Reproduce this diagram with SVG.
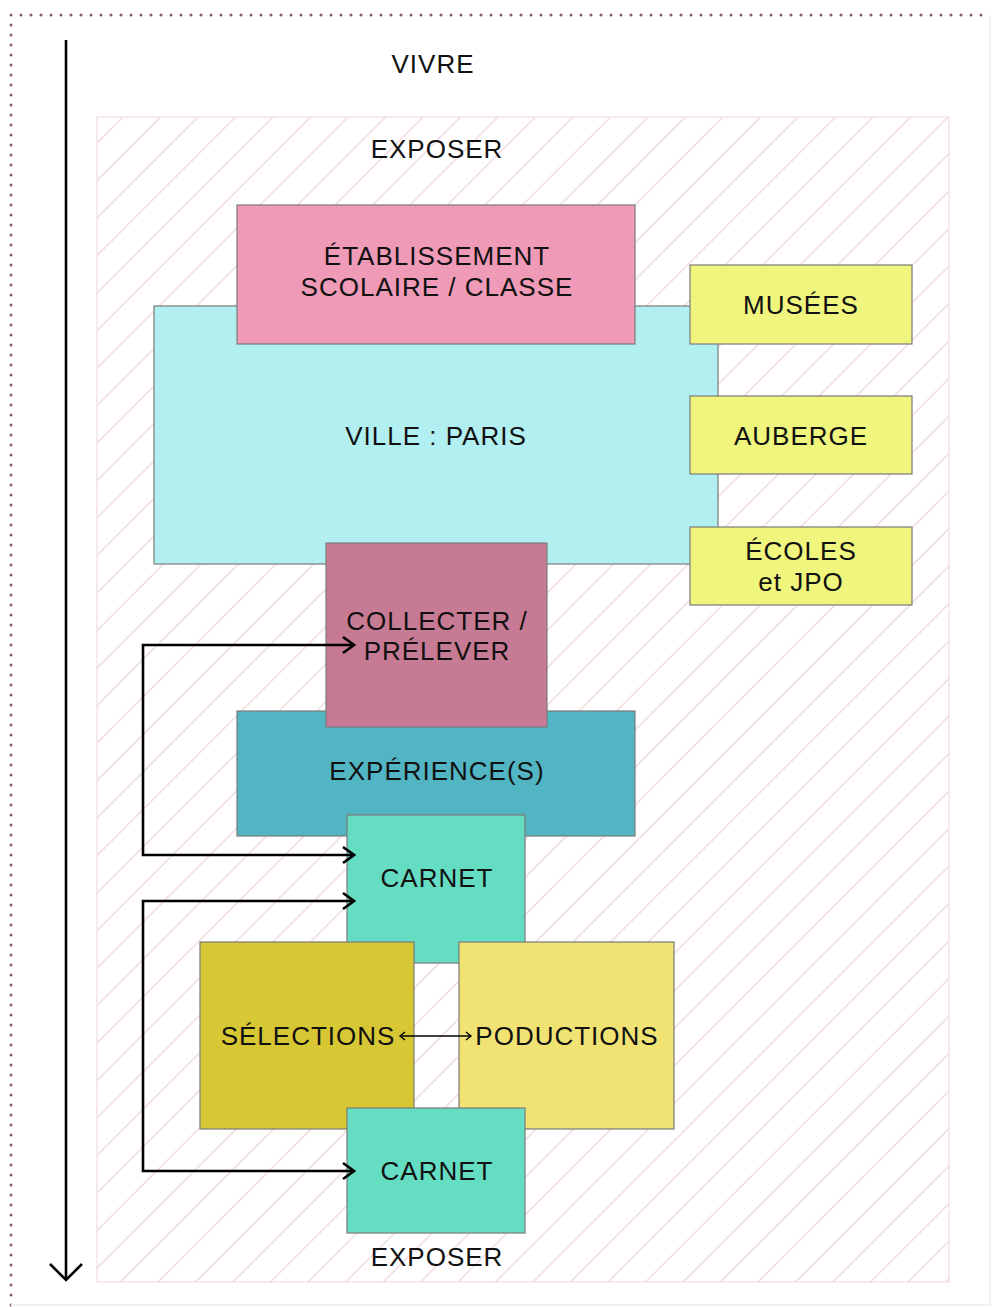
<svg xmlns="http://www.w3.org/2000/svg" width="992" height="1307" viewBox="0 0 992 1307">
<style>
.box{stroke:#7a7a7a;stroke-width:1.2}
.t{font-family:"Liberation Sans",Arial,sans-serif;font-size:26px;letter-spacing:1px;fill:#111;text-anchor:middle}
.con{fill:none;stroke:#000;stroke-width:2.6}
.dots{fill:none;stroke:#8c5b6b;stroke-width:3;stroke-dasharray:0 10;stroke-linecap:round}
</style>
<defs>
<pattern id="hatch" patternUnits="userSpaceOnUse" width="37.5" height="37.5">
<path d="M-1,16 L16,-1 M14,38.5 L38.5,14" stroke="#efd5db" stroke-width="1.3" fill="none"/>
</pattern>
<marker id="chev" markerUnits="userSpaceOnUse" viewBox="-14 -10 16 20" markerWidth="16" markerHeight="20" refX="0" refY="0" orient="auto-start-reverse">
<path d="M-11,-8 L0,0 L-11,8" fill="none" stroke="#000" stroke-width="2.6"/>
</marker>
<marker id="bigchev" markerUnits="userSpaceOnUse" viewBox="-20 -20 24 40" markerWidth="24" markerHeight="40" refX="0" refY="0" orient="auto">
<path d="M-16,-16 L0,0 L-16,16" fill="none" stroke="#000" stroke-width="2.6"/>
</marker>
<marker id="small" markerUnits="userSpaceOnUse" viewBox="-8 -6 10 12" markerWidth="10" markerHeight="12" refX="0" refY="0" orient="auto-start-reverse">
<path d="M-5,-4 L0,0 L-5,4" fill="none" stroke="#000" stroke-width="1.4"/>
</marker>
</defs>
<rect width="992" height="1307" fill="#fff"/>
<g id="border">
<path class="dots" d="M11,1305 L11,15 L990,15"/>
<path d="M990,15 L990,1305 L11,1305" fill="none" stroke="#f1f1f1" stroke-width="2"/>
</g>
<g id="frame">
<rect x="97" y="117" width="852" height="1165" fill="url(#hatch)" stroke="#f0dde2" stroke-width="1.2"/>
</g>
<g id="labels">
<text class="t" x="433" y="73">VIVRE</text>
<text class="t" x="437" y="158">EXPOSER</text>
<text class="t" x="437" y="1266">EXPOSER</text>
</g>
<g id="ville"><rect class="box" x="154" y="306" width="564" height="258" fill="#b2eff0"/><text class="t" x="436" y="445">VILLE : PARIS</text></g>
<g id="etablissement"><rect class="box" x="237" y="205" width="398" height="139" fill="#ef9ab6"/><text class="t" x="437" y="265">ÉTABLISSEMENT</text><text class="t" x="437" y="296">SCOLAIRE / CLASSE</text></g>
<g id="musees"><rect class="box" x="690" y="265" width="222" height="79" fill="#eff57d"/><text class="t" x="801" y="314">MUSÉES</text></g>
<g id="auberge"><rect class="box" x="690" y="396" width="222" height="78" fill="#eff57d"/><text class="t" x="801" y="445">AUBERGE</text></g>
<g id="ecoles"><rect class="box" x="690" y="527" width="222" height="78" fill="#eff57d"/><text class="t" x="801" y="560">ÉCOLES</text><text class="t" x="801" y="591">et JPO</text></g>
<g id="experience"><rect class="box" x="237" y="711" width="398" height="125" fill="#52b5c3"/><text class="t" x="437" y="780">EXPÉRIENCE(S)</text></g>
<g id="collecter"><rect class="box" x="326" y="543" width="221" height="184" fill="#c77a93"/><text class="t" x="437" y="630">COLLECTER /</text><text class="t" x="437" y="660">PRÉLEVER</text></g>
<g id="carnet1"><rect class="box" x="347" y="815" width="178" height="148" fill="#64ddc2"/><text class="t" x="437" y="887">CARNET</text></g>
<g id="selections"><rect class="box" x="200" y="942" width="214" height="187" fill="#d8c734"/><text class="t" x="308" y="1045">SÉLECTIONS</text></g>
<g id="productions"><rect class="box" x="459" y="942" width="215" height="187" fill="#f0e373"/><text class="t" x="567" y="1045">PODUCTIONS</text></g>
<g id="carnet2"><rect class="box" x="347" y="1108" width="178" height="125" fill="#64ddc2"/><text class="t" x="437" y="1180">CARNET</text></g>
<g id="connectors">
<path class="con" d="M66,40 L66,1280" marker-end="url(#bigchev)"/>
<path class="con" d="M354,645 L143,645 L143,855 L354,855" marker-start="url(#chev)" marker-end="url(#chev)"/>
<path class="con" d="M354,901 L143,901 L143,1171 L354,1171" marker-start="url(#chev)" marker-end="url(#chev)"/>
<path d="M400,1036 L471,1036" fill="none" stroke="#000" stroke-width="1.4" marker-start="url(#small)" marker-end="url(#small)"/>
</g>
</svg>
